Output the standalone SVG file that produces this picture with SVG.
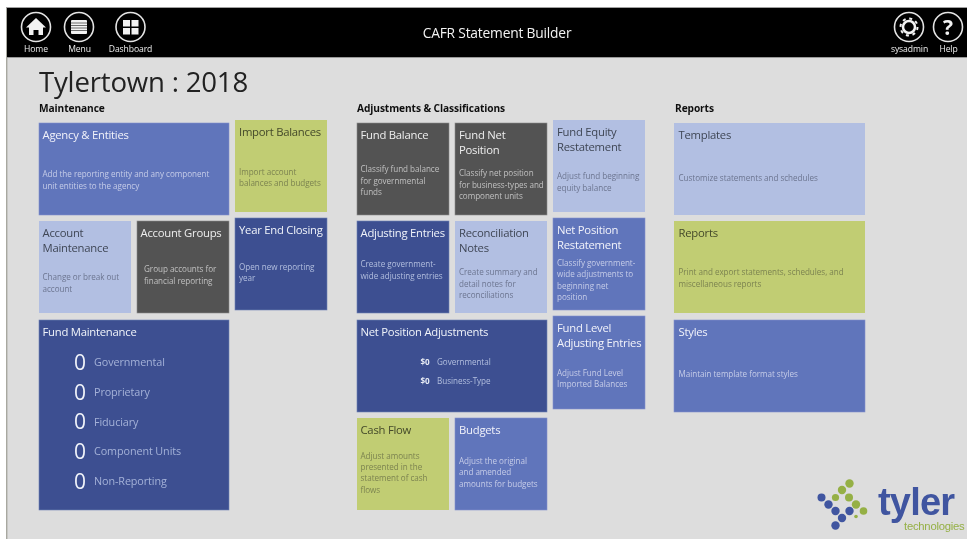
<svg xmlns="http://www.w3.org/2000/svg" width="967" height="539" viewBox="0 0 967 539">
<defs>
<style>
text{font-family:"Open Sans","Noto Sans","Liberation Sans",sans-serif}
.t{font-size:11.3px;letter-spacing:-.25px}
.d{font-size:8.1px;letter-spacing:-.03px}
.h{font-size:10.2px;font-weight:700;fill:#111;letter-spacing:-.1px}
.nav{font-size:8.6px;fill:#eee;text-anchor:middle;letter-spacing:-.1px}
.mid rect{fill:#6174bb;stroke:#8392cc;stroke-width:.6}
.mid .t{fill:#f1f3fa}.mid .d{fill:#c5cde8}
.navy rect{fill:#3c5091;stroke:#6e7fb5;stroke-width:.6}
.navy .t{fill:#f1f3fa}.navy .d{fill:#b4bedf}
.lite rect{fill:#b2bfe2}
.lite .t{fill:#3f4655}.lite .d{fill:#6c7590}
.grey rect{fill:#535353;stroke:#8a8a8a;stroke-width:.6}
.grey .t{fill:#eeeeee}.grey .d{fill:#c0c0c0}
.lime rect{fill:#c1cd73}
.lime .t{fill:#44492a}.lime .d{fill:#7c8350}
.num{font-size:21px;fill:#f1f3fa}
.lab{font-size:10.8px;fill:#a5b1d8;letter-spacing:-.1px}
.ring{fill:none;stroke:#e4e4e4;stroke-width:1.6}
.ic{fill:#f2f2f2}
.db{fill:#3f55a0}.dg{fill:#95b045}
</style>
<filter id="soft" x="0" y="0" width="100%" height="100%"><feGaussianBlur stdDeviation="0.35"/></filter>
</defs>
<g filter="url(#soft)">
<rect width="967" height="539" fill="#ffffff"/>
<rect x="7" y="8" width="960" height="531" fill="#dddddd"/>
<rect x="6" y="7" width="1.4" height="532" fill="#a8a8a0"/>
<rect x="6" y="7" width="961" height="1.4" fill="#a0a0a0"/>
<rect x="7" y="8" width="960" height="49" fill="#000"/>
<rect x="7" y="57" width="960" height="1" fill="#999"/>

<g id="nav-home"><circle class="ring" cx="36" cy="27" r="14.500"/><path class="ic" d="M36 18 46 27.500 43 27.500V35H38.500V30H33.500V35H29V27.500H26Z"/><text class="nav" x="36" y="52">Home</text></g>
<g id="nav-menu"><circle class="ring" cx="79" cy="27" r="14.500"/><rect class="ic" x="71" y="20" width="16" height="14" rx="1"/><path d="M71 23h16M71 25.500h16M71 28h16M71 30.500h16" stroke="#333" stroke-width=".7"/><text class="nav" x="79.500" y="52">Menu</text></g>
<g id="nav-dashboard"><circle class="ring" cx="130.500" cy="27" r="14.500"/><rect class="ic" x="123" y="20" width="7" height="6.500"/><rect class="ic" x="131.500" y="20" width="7" height="6.500"/><rect class="ic" x="123" y="28" width="7" height="6.500"/><rect class="ic" x="131.500" y="28" width="7" height="6.500"/><text class="nav" x="130.500" y="52">Dashboard</text></g>
<text id="page-title" x="497" y="38" font-size="13.800" fill="#f2f2f2" text-anchor="middle" letter-spacing="-.2">CAFR Statement Builder</text>
<g id="nav-sysadmin"><circle class="ring" cx="909" cy="27" r="14.500"/><circle cx="909" cy="27" r="6" fill="none" stroke="#f2f2f2" stroke-width="2.500"/><circle cx="909" cy="27" r="8.500" fill="none" stroke="#f2f2f2" stroke-width="2" stroke-dasharray="3 3.670"/><text class="nav" x="909.500" y="52">sysadmin</text></g>
<g id="nav-help"><circle class="ring" cx="948" cy="27" r="14.500"/><text x="948" y="34.500" font-size="21" font-weight="700" fill="#f2f2f2" text-anchor="middle">?</text><text class="nav" x="948.500" y="52">Help</text></g>

<text id="title" x="39" y="92" font-size="27.600" fill="#222" letter-spacing="-.2">Tylertown : 2018</text>
<text class="h" x="39" y="112">Maintenance</text>
<text class="h" x="357" y="112">Adjustments &amp; Classifications</text>
<text class="h" x="675" y="112">Reports</text>

<g id="agency-entities" class="mid"><rect x="39" y="123" width="190" height="92"/><text class="t" x="42.500" y="139">Agency &amp; Entities</text><text class="d" x="42.500" y="177">Add the reporting entity and any component</text><text class="d" x="42.500" y="189">unit entities to the agency</text></g>
<g id="import-balances" class="lime"><rect x="235" y="120" width="92" height="92"/><text class="t" x="239" y="135.500">Import Balances</text><text class="d" x="239" y="175">Import account</text><text class="d" x="239" y="186">balances and budgets</text></g>
<g id="account-maintenance" class="lite"><rect x="39" y="221" width="92" height="92"/><text class="t" x="42.500" y="237">Account</text><text class="t" x="42.500" y="252">Maintenance</text><text class="d" x="42.500" y="280">Change or break out</text><text class="d" x="42.500" y="292">account</text></g>
<g id="account-groups" class="grey"><rect x="137" y="221" width="92" height="92"/><text class="t" x="140.500" y="237">Account Groups</text><text class="d" x="144" y="272">Group accounts for</text><text class="d" x="144" y="284">financial reporting</text></g>
<g id="year-end-closing" class="navy"><rect x="235" y="218" width="92" height="92"/><text class="t" x="239" y="234">Year End Closing</text><text class="d" x="239" y="270">Open new reporting</text><text class="d" x="239" y="281">year</text></g>
<g id="fund-maintenance" class="navy"><rect x="39" y="320" width="190" height="190"/><text class="t" x="42.500" y="335.500">Fund Maintenance</text>
<text class="num" x="74" y="370">0</text><text class="lab" x="94" y="366">Governmental</text>
<text class="num" x="74" y="399.500">0</text><text class="lab" x="94" y="396">Proprietary</text>
<text class="num" x="74" y="429">0</text><text class="lab" x="94" y="425.500">Fiduciary</text>
<text class="num" x="74" y="458.500">0</text><text class="lab" x="94" y="455">Component Units</text>
<text class="num" x="74" y="488.500">0</text><text class="lab" x="94" y="485">Non-Reporting</text></g>

<g id="fund-balance" class="grey"><rect x="357" y="123" width="92" height="92"/><text class="t" x="360.500" y="139">Fund Balance</text><text class="d" x="360.500" y="172">Classify fund balance</text><text class="d" x="360.500" y="184">for governmental</text><text class="d" x="360.500" y="195">funds</text></g>
<g id="fund-net-position" class="grey"><rect x="455" y="123" width="92" height="92"/><text class="t" x="459" y="139">Fund Net</text><text class="t" x="459" y="154">Position</text><text class="d" x="459" y="176">Classify net position</text><text class="d" x="459" y="188">for business-types and</text><text class="d" x="459" y="199">component units</text></g>
<g id="fund-equity-restatement" class="lite"><rect x="553" y="120" width="92" height="92"/><text class="t" x="557" y="136">Fund Equity</text><text class="t" x="557" y="151">Restatement</text><text class="d" x="557" y="179">Adjust fund beginning</text><text class="d" x="557" y="191">equity balance</text></g>
<g id="adjusting-entries" class="navy"><rect x="357" y="221" width="92" height="92"/><text class="t" x="360.500" y="237">Adjusting Entries</text><text class="d" x="360.500" y="267">Create government-</text><text class="d" x="360.500" y="279">wide adjusting entries</text></g>
<g id="reconciliation-notes" class="lite"><rect x="455" y="221" width="92" height="92"/><text class="t" x="459" y="237">Reconciliation</text><text class="t" x="459" y="252">Notes</text><text class="d" x="459" y="275">Create summary and</text><text class="d" x="459" y="287">detail notes for</text><text class="d" x="459" y="298">reconciliations</text></g>
<g id="net-position-restatement" class="mid"><rect x="553" y="218" width="92" height="92"/><text class="t" x="557" y="234">Net Position</text><text class="t" x="557" y="249">Restatement</text><text class="d" x="557" y="266">Classify government-</text><text class="d" x="557" y="277">wide adjustments to</text><text class="d" x="557" y="289">beginning net</text><text class="d" x="557" y="300">position</text></g>
<g id="net-position-adjustments" class="navy"><rect x="357" y="320" width="190" height="92"/><text class="t" x="360.500" y="336">Net Position Adjustments</text><text class="d" x="420.500" y="365" font-weight="700" style="fill:#e8ebf5">$0</text><text class="d" x="437" y="365">Governmental</text><text class="d" x="420.500" y="384" font-weight="700" style="fill:#e8ebf5">$0</text><text class="d" x="437" y="384">Business-Type</text></g>
<g id="fund-level-adjusting-entries" class="mid"><rect x="553" y="316" width="92" height="93"/><text class="t" x="557" y="332">Fund Level</text><text class="t" x="557" y="347">Adjusting Entries</text><text class="d" x="557" y="376">Adjust Fund Level</text><text class="d" x="557" y="387">Imported Balances</text></g>
<g id="cash-flow" class="lime"><rect x="357" y="418" width="92" height="92"/><text class="t" x="360.500" y="434">Cash Flow</text><text class="d" x="360.500" y="459">Adjust amounts</text><text class="d" x="360.500" y="470">presented in the</text><text class="d" x="360.500" y="481">statement of cash</text><text class="d" x="360.500" y="493">flows</text></g>
<g id="budgets" class="mid"><rect x="455" y="418" width="92" height="92"/><text class="t" x="459" y="434">Budgets</text><text class="d" x="459" y="464">Adjust the original</text><text class="d" x="459" y="475">and amended</text><text class="d" x="459" y="487">amounts for budgets</text></g>

<g id="templates" class="lite"><rect x="674" y="123" width="191" height="92"/><text class="t" x="678.500" y="139">Templates</text><text class="d" x="678.500" y="181">Customize statements and schedules</text></g>
<g id="reports" class="lime"><rect x="674" y="221" width="191" height="92"/><text class="t" x="678.500" y="237">Reports</text><text class="d" x="678.500" y="275">Print and export statements, schedules, and</text><text class="d" x="678.500" y="287">miscellaneous reports</text></g>
<g id="styles" class="mid"><rect x="674" y="320" width="191" height="92"/><text class="t" x="678.500" y="336">Styles</text><text class="d" x="678.500" y="377">Maintain template format styles</text></g>

<g id="tyler-logo">
<circle class="dg" cx="849.500" cy="483.500" r="4.200"/><circle class="dg" cx="842" cy="490" r="4.200"/><circle class="dg" cx="849" cy="497.500" r="4"/><circle class="dg" cx="835.500" cy="497.500" r="3.600"/><circle class="dg" cx="856" cy="504.500" r="4.200"/><circle class="dg" cx="863.500" cy="511" r="3.800"/><circle class="dg" cx="856" cy="516.500" r="1.800"/>
<circle class="db" cx="821.500" cy="497.500" r="4"/><circle class="db" cx="828.500" cy="504.500" r="4.200"/><circle class="db" cx="835.500" cy="511" r="4.200"/><circle class="db" cx="849.500" cy="511" r="4.200"/><circle class="db" cx="842" cy="518" r="4.200"/><circle class="db" cx="835.500" cy="525.500" r="4.200"/>
<text x="878" y="515" font-size="38" font-weight="700" fill="#3f55a0" style="font-family:'Liberation Sans',sans-serif" letter-spacing="-.8">tyler</text>
<text x="904" y="530" font-size="11.300" fill="#95b045" style="font-family:'Liberation Sans',sans-serif" letter-spacing="-.25">technologies</text>
</g>
</g>
</svg>
